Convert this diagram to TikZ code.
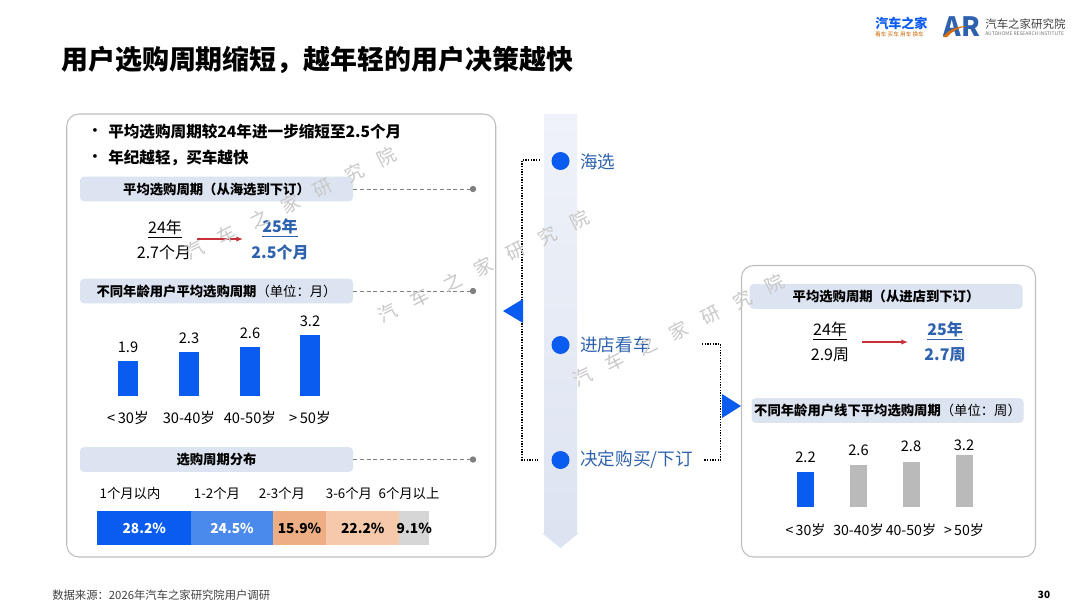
\documentclass[tikz,border=0pt]{standalone}
\usepackage{fontspec}
\setmainfont{Noto Sans CJK SC}
\usetikzlibrary{arrows.meta,positioning}
\definecolor{brandblue}{HTML}{0A5CF0}
\definecolor{inkblue}{HTML}{2F62AE}
\definecolor{hdrfill}{HTML}{DCE3F1}
\definecolor{cardline}{HTML}{BEBEBE}
\definecolor{marktext}{HTML}{C8C8C8}
\definecolor{arrowred}{HTML}{C8303A}
\definecolor{midblue}{HTML}{4A8AEC}
\definecolor{peachdark}{HTML}{EDAE84}
\definecolor{peachlight}{HTML}{F5C9A9}
\definecolor{restgray}{HTML}{D6D6D6}
\tikzset{
  card/.style={draw=cardline,line width=0.8pt,fill=white,rounded corners=9pt},
  hdrbar/.style={fill=hdrfill,rounded corners=3pt,inner sep=0pt,minimum width=204.75pt,minimum height=18.5pt,font=\fontsize{10}{12}\selectfont},
  leader/.style={draw=gray,densely dashed,line width=0.5pt},
  leaderpin/.style={circle,fill=gray,inner sep=0pt,minimum size=4.8pt},
  stagedot/.style={circle,fill=brandblue,inner sep=0pt,minimum size=13.5pt},
  stagelabel/.style={anchor=west,inner sep=0pt,text=inkblue,font=\fontsize{13.2}{16}\selectfont},
  dotlink/.style={draw=black,dash pattern=on 1pt off 1pt,line width=1.1pt},
  valbar/.style={anchor=south,inner sep=0pt,minimum width=14.5pt},
  plaintext/.style={inner sep=0pt,font=\fontsize{11}{13}\selectfont},
  yearbig/.style={inner sep=0pt,font=\fontsize{12}{14}\selectfont},
  yearnew/.style={inner sep=0pt,text=inkblue,font=\bfseries\fontsize{12}{14}\selectfont},
  redarrow/.style={draw=arrowred,line width=0.9pt,-{Latex[length=5pt,width=4pt]}},
  stackbar/.style={anchor=west,inner sep=0pt,minimum height=25.5pt},
  watermark/.style={inner sep=0pt,rotate=27,text=marktext,font=\fontsize{14}{16}\selectfont}
}
\begin{document}
\begin{tikzpicture}[x=0.75pt,y=0.75pt,yscale=-1,xscale=1]
\useasboundingbox (0,0) rectangle (1080,608);

% Title and footer
\node [anchor=west,inner sep=0pt,font=\bfseries\fontsize{20.2}{24}\selectfont] (title) at (61,60) {用户选购周期缩短，越年轻的用户决策越快};
\node [anchor=west,inner sep=0pt,text=black!75,font=\fontsize{8.5}{10}\selectfont] (source) at (52,595) {数据来源：2026年汽车之家研究院用户调研};
\node [inner sep=0pt,font=\bfseries\fontsize{7.5}{9}\selectfont] (pageno) at (1044,595) {30};

% Logos
\node [anchor=west,inner sep=0pt,text=brandblue,font=\bfseries\fontsize{9.8}{11}\selectfont] (logoa) at (875,23) {汽车之家};
\node [anchor=west,inner sep=0pt,text=orange!80!black,font=\fontsize{4.2}{5}\selectfont] (logob) at (875,34) {看车\ 买车\ 用车\ 换车};
\node [inner sep=0pt,text=inkblue,font=\bfseries\fontsize{20}{21}\selectfont] (logoc) at (962,27) {AR};
\node [anchor=west,inner sep=0pt,text=black!75,font=\fontsize{8.6}{10}\selectfont] (logod) at (985,24) {汽车之家研究院};
\node [anchor=west,inner sep=0pt,text=black!55,font=\fontsize{3.7}{4}\selectfont] (logoe) at (985,33.5) {AUTOHOME RESEARCH INSTITUTE};
%Curve Lines
\fill [orange!85!black] (943,37) .. controls (948,30) and (957,26) .. (967,26) .. controls (958,28) and (951,32) .. (947,37) -- cycle;

% Cards
\node [card,inner sep=0pt,minimum width=321.75pt,minimum height=332.25pt] (leftcard) at (281.25,335.5) {};
\node [card,inner sep=0pt,minimum width=220.5pt,minimum height=218.6pt] (rightcard) at (888.5,411.25) {};

% Spine with arrow head
\shade [top color=hdrfill!45,bottom color=hdrfill] (544,114) -- (577,114) -- (577,533) -- (579,533) -- (560.5,548) -- (542,533) -- (544,533) -- cycle;

% Stages
\node [stagedot] (stagea) at (560.5,161) {};
\node [stagedot] (stageb) at (560.5,345) {};
\node [stagedot] (stagec) at (560.5,460) {};
\node [stagelabel] (labela) at (580,162) {海选};
\node [stagelabel] (labelb) at (580,345) {进店看车};
\node [stagelabel] (labelc) at (580,460) {决定购买/下订};

% Dotted brackets
\coordinate (linka) at (540,160);
\coordinate (linkb) at (522,160);
\coordinate (linkc) at (522,460);
\coordinate (linkd) at (538,460);
\coordinate (linke) at (702,344);
\coordinate (linkf) at (720.5,344);
\coordinate (linkg) at (720.5,460);
\coordinate (linkh) at (703,460);
\draw [dotlink] (linka) -- (linkb) -- (linkc) -- (linkd);
\draw [dotlink] (linke) -- (linkf) -- (linkg) -- (linkh);
\fill [brandblue] (523,299) -- (503,311) -- (523,323) -- cycle;
\fill [brandblue] (722,394) -- (741,406) -- (722,418) -- cycle;

% Left card text
\node [inner sep=0pt] (dota) at (95,132) {\textbf{·}};
\node [inner sep=0pt] (dotb) at (95,158) {\textbf{·}};
\node [anchor=west,inner sep=0pt,font=\bfseries\fontsize{11.7}{14}\selectfont] (pointa) at (108,132) {平均选购周期较24年进一步缩短至2.5个月};
\node [anchor=west,inner sep=0pt,font=\bfseries\fontsize{11.7}{14}\selectfont] (pointb) at (108,158) {年纪越轻，买车越快};

% Headers and leaders
\node [hdrbar] (hdra) at (216.5,189) {\textbf{平均选购周期（从海选到下订）}};
\node [hdrbar] (hdrb) at (216.5,291) {\textbf{不同年龄用户平均选购周期}（单位：月）};
\node [hdrbar] (hdrc) at (216.5,459.5) {\textbf{选购周期分布}};
\node [leaderpin] (pina) at (473,189) {};
\node [leaderpin] (pinb) at (473,291) {};
\node [leaderpin] (pinc) at (473,459.5) {};
\draw [leader] (hdra) -- (pina);
\draw [leader] (hdrb) -- (pinb);
\draw [leader] (hdrc) -- (pinc);
\node [hdrbar] (hdrd) at (886,296.5) {\textbf{平均选购周期（从进店到下订）}};
\node [hdrbar,minimum width=204pt] (hdre) at (887.5,410.5) {\textbf{不同年龄用户线下平均选购周期}（单位：周）};

% Year comparison, left
\node [yearbig] (olda) at (165,229) {\underline{24年}};
\node [yearbig] (oldb) at (164,252) {2.7个月};
\node [yearnew] (newa) at (280,228) {\underline{25年}};
\node [yearnew] (newb) at (280,252) {2.5个月};
\coordinate (arra) at (197,239);
\coordinate (arrb) at (243,239);
\draw [redarrow] (arra) -- (arrb);

% Year comparison, right
\node [yearbig] (oldc) at (830,331) {\underline{24年}};
\node [yearbig] (oldd) at (830,355) {2.9周};
\node [yearnew] (newc) at (945,331) {\underline{25年}};
\node [yearnew] (newd) at (945,355) {2.7周};
\coordinate (arrc) at (862,342);
\coordinate (arrd) at (908,342);
\draw [redarrow] (arrc) -- (arrd);

% Bars, left
\foreach \i/\x/\h/\val/\lab in {1/128/35/1.9/{<\,30岁},2/189/44/2.3/{30-40岁},3/250/49/2.6/{40-50岁},4/310/61/3.2/{>\,50岁}}{
  \node [valbar,fill=brandblue,minimum height=\h*0.75pt] (bar\i) at (\x,396) {};
  \node [plaintext,above=5.5pt of bar\i] (val\i) {\val};
  \node [plaintext] (cat\i) at (\x,418) {\lab};
}

% Bars, right
\foreach \i/\x/\h/\col/\valy/\val/\lab in {5/805.5/35/brandblue/457/2.2/{<\,30岁},6/858.5/42/black!27/450/2.6/{30-40岁},7/911/45/black!27/446/2.8/{40-50岁},8/964/52/black!27/445/3.2/{>\,50岁}}{
  \node [valbar,fill=\col,minimum height=\h*0.75pt,minimum width=12.75pt] (bar\i) at (\x,507) {};
  \node [plaintext] (val\i) at (\x,\valy) {\val};
  \node [plaintext,font=\fontsize{10.6}{13}\selectfont] (cat\i) at (\x,530) {\lab};
}

% Stacked bar
\foreach \i/\x/\w/\col/\txt/\val in {1/97/94/brandblue/white/28.2\%,2/191/81.5/midblue/white/24.5\%,3/272.5/53.5/peachdark/black/15.9\%,4/326/73/peachlight/black/22.2\%,5/399/30/restgray/black/9.1\%}{
  \node [stackbar,fill=\col,minimum width=\w*0.75pt] (seg\i) at (\x,528) {};
  \node [inner sep=0pt,text=\txt,font=\bfseries\fontsize{10.3}{12}\selectfont] (segval\i) at (seg\i.center) {\val};
}
\foreach \i/\x/\lab in {1/130/1个月以内,2/217/1-2个月,3/282/2-3个月,4/349/3-6个月,5/409/6个月以上}{
  \node [inner sep=0pt,font=\fontsize{10}{12}\selectfont] (seglab\i) at (\x,493) {\lab};
}

% Watermark
\foreach \s/\x/\y in {a/195/250,b/388/313,c/583/377}{
  \foreach \c [count=\k from 0] in {汽,车,之,家,研,究,院}{
    \node [watermark] (mark\s\k) at ({\x+32*\k},{\y-15.5*\k}) {\c};
  }
}

\end{tikzpicture}
\end{document}
